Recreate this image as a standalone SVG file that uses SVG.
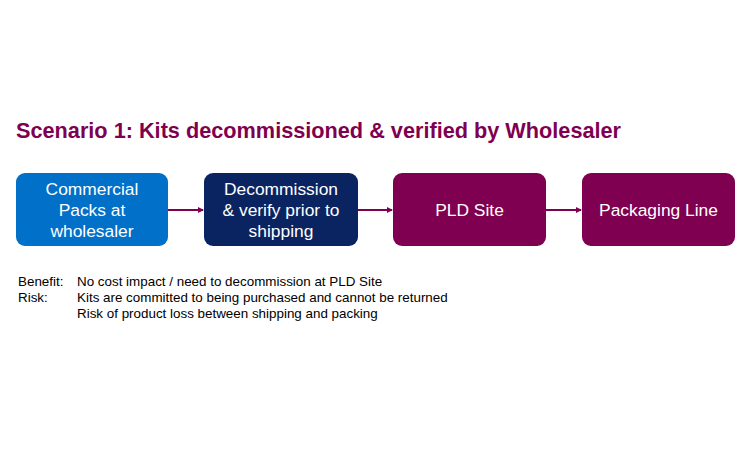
<svg xmlns="http://www.w3.org/2000/svg" width="750" height="450" viewBox="0 0 750 450">
<style>
text{font-family:"Liberation Sans",Arial,sans-serif}
.t{font-size:21.7px;font-weight:bold;fill:#7F0050}
.n{font-size:17.4px;fill:#fff;text-anchor:middle}
.b{font-size:13.4px;fill:#000}
.c{stroke:#7F0050;stroke-width:2;fill:none;marker-end:url(#ah)}
</style>
<defs>
<marker id="ah" markerWidth="6" markerHeight="6" refX="5" refY="3" orient="auto" markerUnits="userSpaceOnUse"><path d="M0,0 L6,3 L0,6 Z" fill="#7F0050"/></marker>
</defs>
<rect width="750" height="450" fill="#fff"/>
<text class="t" x="16" y="138">Scenario 1: Kits decommissioned &amp; verified by Wholesaler</text>
<g id="connectors">
<line class="c" x1="168" y1="210" x2="203" y2="210"/>
<line class="c" x1="358" y1="210" x2="392" y2="210"/>
<line class="c" x1="546" y1="210" x2="581" y2="210"/>
</g>
<g id="n1"><rect x="16" y="173" width="152" height="73" rx="9" fill="#0070C8"/>
<text class="n" x="92" y="195">Commercial</text><text class="n" x="92" y="216">Packs at</text><text class="n" x="92" y="237">wholesaler</text></g>
<g id="n2"><rect x="204" y="173" width="154" height="73" rx="9" fill="#0A2462"/>
<text class="n" x="281" y="195">Decommission</text><text class="n" x="281" y="216">&amp; verify prior to</text><text class="n" x="281" y="237">shipping</text></g>
<g id="n3"><rect x="393" y="173" width="153" height="73" rx="9" fill="#7F0050"/>
<text class="n" x="469.5" y="216">PLD Site</text></g>
<g id="n4"><rect x="582" y="173" width="153" height="73" rx="9" fill="#7F0050"/>
<text class="n" x="658.5" y="216">Packaging Line</text></g>
<g id="notes">
<text class="b" x="18" y="286">Benefit:</text><text class="b" x="77" y="286">No cost impact / need to decommission at PLD Site</text>
<text class="b" x="18" y="302">Risk:</text><text class="b" x="77" y="302">Kits are committed to being purchased and cannot be returned</text>
<text class="b" x="77" y="318">Risk of product loss between shipping and packing</text>
</g>
</svg>
